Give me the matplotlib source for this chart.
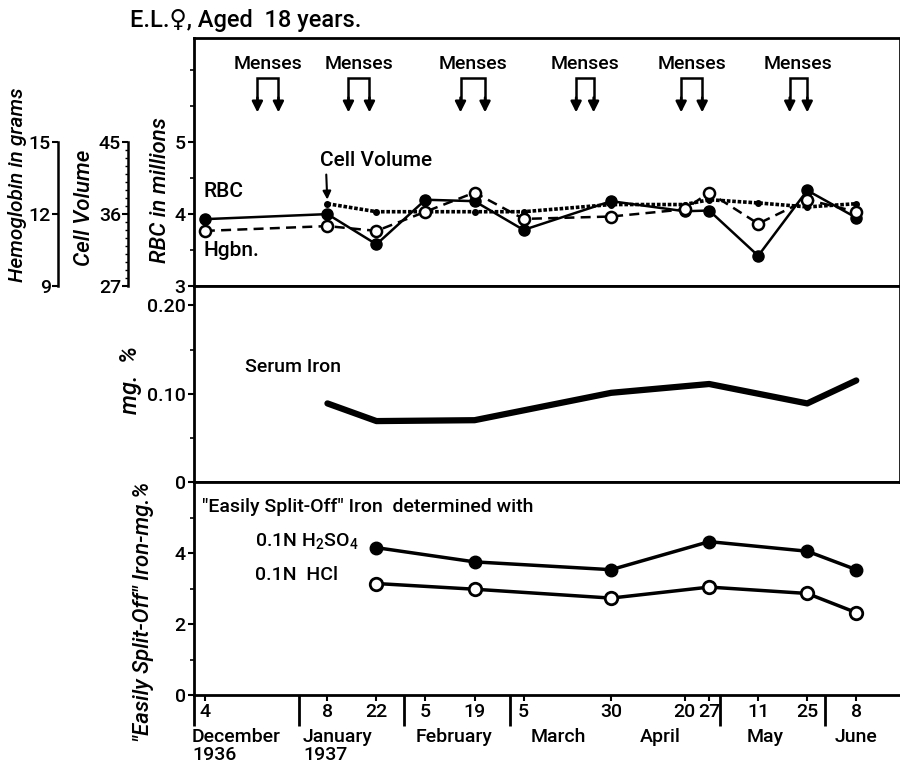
import numpy as np
import matplotlib
matplotlib.use('Agg')
import matplotlib.pyplot as plt
import matplotlib.dates as mdates

plt.rcParams['font.family'] = ['Roboto', 'DejaVu Sans']
plt.rcParams['font.weight'] = 'medium'
plt.rcParams['mathtext.default'] = 'regular'

# --- data ---
dates = ['1936-12-04', '1937-01-08', '1937-01-22', '1937-02-05', '1937-02-19', '1937-03-05',
         '1937-03-30', '1937-04-20', '1937-04-27', '1937-05-11', '1937-05-25', '1937-06-08']
day_labels = ['4', '8', '22', '5', '19', '5', '30', '20', '27', '11', '25', '8']

rbc = [3.93, 4.00, 3.58, 4.20, 4.18, 3.78, 4.18, 4.04, 4.05, 3.42, 4.33, 3.95]        # millions
hgb = [11.3, 11.5, 11.3, 12.1, 12.9, 11.8, 11.9, 12.2, 12.9, 11.6, 12.6, 12.1]        # grams
cv_dates = dates[1:]
cell_vol = [37.3, 36.3, 36.3, 36.3, 36.3, 37.2, 37.2, 37.8, 37.4, 36.9, 37.3]

serum_dates = ['1937-01-08', '1937-01-22', '1937-02-19', '1937-03-30', '1937-04-27',
               '1937-05-25', '1937-06-08']
serum_iron = [0.089, 0.069, 0.070, 0.101, 0.111, 0.089, 0.115]

split_dates = ['1937-01-22', '1937-02-19', '1937-03-30', '1937-04-27', '1937-05-25', '1937-06-08']
h2so4 = [4.15, 3.75, 3.53, 4.32, 4.05, 3.53]
hcl = [3.14, 2.98, 2.73, 3.04, 2.86, 2.32]

menses_start = ['1936-12-19', '1937-01-14', '1937-02-15', '1937-03-20', '1937-04-19', '1937-05-20']
menses_end = ['1936-12-25', '1937-01-20', '1937-02-22', '1937-03-25', '1937-04-25', '1937-05-25']

month_bounds = ['1936-12-01', '1936-12-31', '1937-01-30', '1937-03-01', '1937-04-30', '1937-05-30']
month_names = ['December\n1936', 'January\n1937', 'February', 'March', 'April', 'May', 'June']
month_pos = ['1936-12-13', '1937-01-11', '1937-02-13', '1937-03-15', '1937-04-13', '1937-05-13',
             '1937-06-08']


def dn(lst):
    return mdates.date2num(np.array(lst, dtype='datetime64[D]'))


x = dn(dates)
x0 = dn(['1936-12-01'])[0]
FS = 14

fig = plt.figure(figsize=(9, 7.7), dpi=100)
L, W = 194 / 900, 705 / 900
ax1 = fig.add_axes([L, 1 - 286 / 770, W, 248 / 770])
ax2 = fig.add_axes([L, 1 - 482 / 770, W, 196 / 770], sharex=ax1)
ax3 = fig.add_axes([L, 1 - 695 / 770, W, 213 / 770], sharex=ax1)

ax1.set_xlim(x0 - 0.1, x0 + 201.2)

for ax in (ax1, ax2, ax3):
    for s in ax.spines.values():
        s.set_linewidth(2)
    ax.tick_params(axis='y', direction='out', length=4, width=1.5, labelsize=FS, pad=2)
ax1.spines['right'].set_linewidth(0.6)
ax2.spines['right'].set_linewidth(0.6)
ax3.spines['right'].set_visible(False)
ax1.tick_params(axis='x', bottom=False, labelbottom=False)
ax2.tick_params(axis='x', bottom=False, labelbottom=False)

# --- top panel: RBC, cell volume, hemoglobin ---
r_lo, r_hi = 3, 6.45
ax1.set_ylim(r_lo, r_hi)
ax1.set_yticks([3, 4, 5])
ax1.set_yticks([3.5, 4.5, 5.5, 6.0], minor=True)
ax1.tick_params(axis='y', which='minor', length=3, width=1.2)

cv = ax1.twinx()
cv.set_ylim(27, 27 + (r_hi - r_lo) * 9)
hg = ax1.twinx()
hg.set_ylim(9, 9 + (r_hi - r_lo) * 3)
for tw, pos, lo, hi in ((cv, -0.0936, 27, 45), (hg, -0.193, 9, 15)):
    for k in ('top', 'bottom', 'right'):
        tw.spines[k].set_visible(False)
    tw.spines['left'].set_visible(True)
    tw.spines['left'].set_position(('axes', pos))
    tw.spines['left'].set_bounds(lo, hi)
    tw.spines['left'].set_linewidth(1.8)
    tw.yaxis.set_ticks_position('left')
    tw.set_yticks([lo, (lo + hi) / 2, hi])
    tw.set_yticklabels(['%d' % lo, '%d' % ((lo + hi) / 2), '%d' % hi])
    tw.tick_params(axis='y', direction='out', length=4, width=1.5, labelsize=FS, pad=1)
cv.set_yticks(np.arange(28, 45, 1), minor=True)
cv.tick_params(axis='y', which='minor', length=2, width=1)

ax1.plot(x, rbc, '-o', color='k', lw=1.8, ms=8, zorder=4)
hg.plot(x, hgb, 'o', color='k', ls=(0, (4, 2.5)), lw=1.8, ms=8, mfc='white', mew=1.8, zorder=3)
cv.plot(dn(cv_dates), cell_vol, 'o', color='k', ls=(0, (1, 0.5)), lw=2.6, ms=4, zorder=2)

ax1.text(0.014, 0.38, 'RBC', transform=ax1.transAxes, fontsize=FS + 1, va='center')
ax1.text(0.014, 0.145, 'Hgbn.', transform=ax1.transAxes, fontsize=FS + 1, va='center')
cv.annotate('Cell Volume', xy=(x[1], cell_vol[0]), xytext=(-5, 24), textcoords='offset points',
            fontsize=FS + 1, ha='left', va='bottom',
            arrowprops=dict(arrowstyle='-|>', color='k', lw=1.5, mutation_scale=12,
                            relpos=(0.05, 0), shrinkA=1, shrinkB=3))

trans = ax1.get_xaxis_transform()
for s, e in zip(dn(menses_start), dn(menses_end)):
    ax1.plot([s, s, e, e], [0.74, 0.84, 0.84, 0.74], color='k', lw=1.8, transform=trans,
             solid_joinstyle='miter')
    for xx in (s, e):
        ax1.annotate('', xy=(xx, 0.70), xytext=(xx, 0.76), xycoords=trans, textcoords=trans,
                     arrowprops=dict(arrowstyle='-|>', color='k', lw=1.8, mutation_scale=16,
                                     shrinkA=0, shrinkB=0))
    ax1.text((s + e) / 2, 0.895, 'Menses', transform=trans, ha='center', va='center', fontsize=FS)

# --- middle panel: serum iron ---
ax2.set_ylim(0, 0.222)
ax2.set_yticks([0, 0.1, 0.2])
ax2.set_yticklabels(['0', '0.10', '0.20'])
ax2.set_yticks([0.05, 0.15], minor=True)
ax2.tick_params(axis='y', which='minor', length=3, width=1.2)
ax2.plot(dn(serum_dates), serum_iron, color='k', lw=4.5, solid_capstyle='round')
ax2.text(0.073, 0.587, 'Serum Iron', transform=ax2.transAxes, fontsize=FS, va='center')

# --- bottom panel: easily split-off iron ---
ax3.set_ylim(0, 6)
ax3.set_yticks([0, 2, 4])
ax3.set_yticks([1, 3, 5], minor=True)
ax3.tick_params(axis='y', which='minor', length=3, width=1.2)
ax3.plot(dn(split_dates), h2so4, '-o', color='k', lw=2.5, ms=9)
ax3.plot(dn(split_dates), hcl, '-o', color='k', lw=2.5, ms=9, mfc='white', mew=2)
ax3.text(0.012, 0.883, '"Easily Split-Off" Iron  determined with', transform=ax3.transAxes,
         fontsize=FS, va='center')
ax3.text(0.086, 0.725, r'0.1N H$_2$SO$_4$', transform=ax3.transAxes, fontsize=FS, va='center')
ax3.text(0.086, 0.565, '0.1N  HCl', transform=ax3.transAxes, fontsize=FS, va='center')

# x axis: dates, month separators, month names
ax3.set_xticks(x)
ax3.set_xticklabels(day_labels)
ax3.tick_params(axis='x', direction='out', length=4, width=1.5, labelsize=FS, pad=2)
xt = ax3.get_xaxis_transform()
ax3.vlines(dn(month_bounds), 0, -0.145, color='k', lw=2, transform=xt, clip_on=False)
for name, p in zip(month_names, dn(month_pos)):
    ax3.text(p, -0.155, name, transform=xt, ha='center', va='top', fontsize=FS,
             multialignment='left', linespacing=1.0)

# axis titles
fig.text(18 / 900, 1 - 185 / 770, 'Hemoglobin in grams', rotation=90, ha='center', va='center',
         fontsize=FS + 1, style='italic')
fig.text(85 / 900, 1 - 208 / 770, 'Cell Volume', rotation=90, ha='center', va='center',
         fontsize=FS + 2, style='italic')
fig.text(160 / 900, 1 - 190 / 770, 'RBC in millions', rotation=90, ha='center', va='center',
         fontsize=FS + 2, style='italic')
fig.text(130 / 900, 1 - 380 / 770, 'mg.  %', rotation=90, ha='center', va='center',
         fontsize=FS + 3, style='italic')
fig.text(143 / 900, 1 - 612 / 770, '"Easily Split-Off" Iron-mg.%', rotation=90, ha='center',
         va='center', fontsize=FS + 2, style='italic')
fig.text(130 / 900, 1 - 20 / 770, 'E.L.\u2640, Aged  18 years.', ha='left', va='center',
         fontsize=FS + 3)

fig.savefig('out.png', dpi=100)
